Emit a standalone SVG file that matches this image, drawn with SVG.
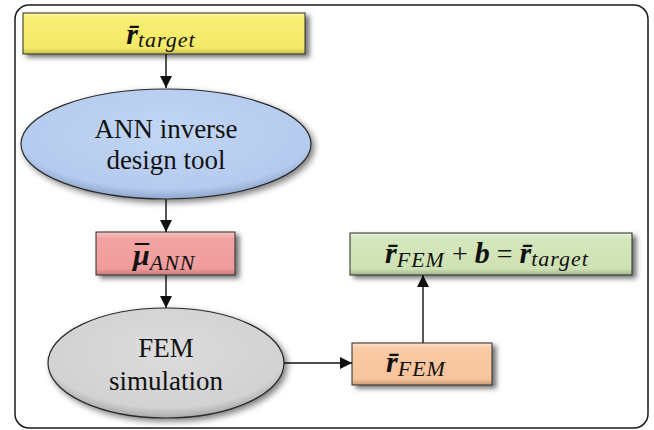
<svg xmlns="http://www.w3.org/2000/svg" width="654" height="430" viewBox="0 0 654 430">
  <style>
    .frame { fill: #ffffff; stroke: #1a1a1a; stroke-width: 1.5; }
    .box { stroke: #2a2a2a; stroke-width: 1; }
    .oval { stroke: #2a2a2a; stroke-width: 1.2; }
    .label { font-family: "Liberation Serif", "DejaVu Serif", serif; font-size: 27px; fill: #111; text-anchor: middle; }
    .math { font-family: "Liberation Serif", "DejaVu Serif", serif; fill: #111; text-anchor: middle; }
    .math.left { text-anchor: start; }
    .vec { font-weight: bold; font-style: italic; font-size: 30px; }
    .sub { font-style: italic; font-size: 22px; letter-spacing: 1px; }
    .op { font-size: 28px; }
    .bar { font-weight: bold; font-style: normal; font-size: 28px; letter-spacing: 0; }
    .wire { stroke: #111; stroke-width: 1.4; fill: none; marker-end: url(#head); }
  </style>
  <defs>
    <marker id="head" viewBox="0 0 10 10" refX="10" refY="5" markerWidth="12" markerHeight="12" markerUnits="userSpaceOnUse" orient="auto">
      <path d="M0,0 L10,5 L0,10 Z" fill="#111"/>
    </marker>
    <filter id="shade" x="-10%" y="-20%" width="130%" height="160%">
      <feGaussianBlur in="SourceAlpha" stdDeviation="2.5"/>
      <feOffset dx="4" dy="3" result="b"/>
      <feFlood flood-color="#000" flood-opacity="0.55"/>
      <feComposite in2="b" operator="in"/>
      <feMerge><feMergeNode/><feMergeNode in="SourceGraphic"/></feMerge>
    </filter>
    <filter id="glow" x="-10%" y="-15%" width="125%" height="135%">
      <feGaussianBlur in="SourceAlpha" stdDeviation="3"/>
      <feOffset dx="3" dy="3" result="b"/>
      <feFlood flood-color="#000" flood-opacity="0.5"/>
      <feComposite in2="b" operator="in"/>
      <feMerge><feMergeNode/><feMergeNode in="SourceGraphic"/></feMerge>
    </filter>
    <linearGradient id="gYellow" x1="0" y1="0" x2="0" y2="1">
      <stop offset="0" stop-color="#fbf6a0"/>
      <stop offset="0.15" stop-color="#f7ee72"/>
      <stop offset="0.85" stop-color="#f4ea68"/>
      <stop offset="1" stop-color="#c9bf4a"/>
    </linearGradient>
    <linearGradient id="gPink" x1="0" y1="0" x2="0" y2="1">
      <stop offset="0" stop-color="#f9c4c4"/>
      <stop offset="0.15" stop-color="#f3a3a3"/>
      <stop offset="0.85" stop-color="#f09c9c"/>
      <stop offset="1" stop-color="#c47a7a"/>
    </linearGradient>
    <linearGradient id="gOrange" x1="0" y1="0" x2="0" y2="1">
      <stop offset="0" stop-color="#fde0c8"/>
      <stop offset="0.15" stop-color="#f9caa4"/>
      <stop offset="0.85" stop-color="#f7c49c"/>
      <stop offset="1" stop-color="#c99c78"/>
    </linearGradient>
    <linearGradient id="gGreen" x1="0" y1="0" x2="0" y2="1">
      <stop offset="0" stop-color="#e6f1d6"/>
      <stop offset="0.15" stop-color="#d4e6bb"/>
      <stop offset="0.85" stop-color="#cfe2b4"/>
      <stop offset="1" stop-color="#a4b68c"/>
    </linearGradient>
    <radialGradient id="gBlue" cx="0.5" cy="0.4" r="0.6">
      <stop offset="0" stop-color="#c2d6f4"/>
      <stop offset="0.85" stop-color="#b5cbee"/>
      <stop offset="1" stop-color="#8ea6cc"/>
    </radialGradient>
    <radialGradient id="gGray" cx="0.5" cy="0.4" r="0.6">
      <stop offset="0" stop-color="#dcdcdc"/>
      <stop offset="0.85" stop-color="#d2d2d2"/>
      <stop offset="1" stop-color="#a8a8a8"/>
    </radialGradient>
  </defs>

  <rect class="frame" x="15" y="5" width="633" height="423" rx="14" ry="14"/>

  <g id="connectors">
    <line class="wire" x1="166" y1="54" x2="166" y2="88"/>
    <line class="wire" x1="166" y1="199" x2="166" y2="232"/>
    <line class="wire" x1="166" y1="275" x2="166" y2="308"/>
    <line class="wire" x1="284" y1="363" x2="352" y2="363"/>
    <line class="wire" x1="423" y1="343" x2="423" y2="275"/>
  </g>

  <g id="target">
    <rect class="box" x="23" y="13" width="282" height="41" fill="url(#gYellow)" filter="url(#shade)"/>
    <text class="math" x="161" y="44"><tspan class="vec">r̄</tspan><tspan class="sub" dy="3">target</tspan></text>
  </g>

  <g id="ann-tool">
    <ellipse class="oval" cx="166" cy="144" rx="145" ry="55" fill="url(#gBlue)" filter="url(#glow)"/>
    <text class="label" x="166" y="138">ANN inverse</text>
    <text class="label" x="166" y="169">design tool</text>
  </g>

  <g id="mu-ann">
    <rect class="box" x="96" y="232" width="139" height="43" fill="url(#gPink)" filter="url(#shade)"/>
    <!-- the macron over mu is placed by hand: a combining mark lands off-centre on the italic glyph -->
    <text class="math left" x="133" y="265"><tspan class="vec">μ</tspan><tspan class="sub" dy="5">ANN</tspan><tspan class="bar" x="135" y="264" textLength="14" lengthAdjust="spacingAndGlyphs">¯</tspan></text>
  </g>

  <g id="fem-sim">
    <ellipse class="oval" cx="166" cy="363" rx="118" ry="55" fill="url(#gGray)" filter="url(#glow)"/>
    <text class="label" x="166" y="357">FEM</text>
    <text class="label" x="166" y="390">simulation</text>
  </g>

  <g id="r-fem">
    <rect class="box" x="352" y="343" width="140" height="42" fill="url(#gOrange)" filter="url(#shade)"/>
    <text class="math" x="416" y="372"><tspan class="vec">r̄</tspan><tspan class="sub" dy="4">FEM</tspan></text>
  </g>

  <g id="result">
    <rect class="box" x="350" y="233" width="282" height="42" fill="url(#gGreen)" filter="url(#shade)"/>
    <text class="math" x="487" y="263"><tspan class="vec">r̄</tspan><tspan class="sub" dy="4">FEM</tspan><tspan class="op" dy="-4"> + </tspan><tspan class="vec">b</tspan><tspan class="op"> = </tspan><tspan class="vec">r̄</tspan><tspan class="sub" dy="3">target</tspan></text>
  </g>
</svg>
